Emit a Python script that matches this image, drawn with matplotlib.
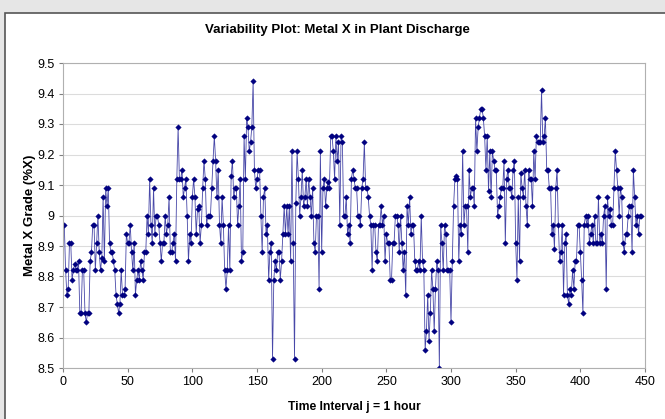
import matplotlib.pyplot as plt
from matplotlib.patches import Rectangle

# metal X grade, one reading per hour
grade_a = [8.97, 8.82, 8.74, 8.76, 8.91, 8.91, 8.79, 8.82, 8.84, 8.82,
           8.82, 8.85, 8.68, 8.68, 8.82, 8.82, 8.68, 8.65, 8.68, 8.68,
           8.85, 8.88, 8.97, 8.97, 8.82, 8.91, 9.00, 8.88, 8.82, 8.86,
           9.06, 8.85, 9.09, 9.03, 9.09, 8.91, 8.88, 8.88, 8.85, 8.82,
           8.74, 8.71, 8.68]
grade_b = [8.71, 8.82, 8.74, 8.74, 8.76, 8.94, 8.91, 8.91, 8.97, 8.88,
           8.82, 8.91, 8.74, 8.79, 8.82, 8.79, 8.85, 8.82, 8.79, 8.88,
           8.88, 9.00, 8.94, 9.12, 8.97, 8.91, 9.09, 8.94, 9.00, 9.00,
           8.97, 8.91, 8.85, 8.91, 8.91, 9.00, 8.94, 8.97, 9.06, 8.88,
           8.88, 8.91, 8.94, 8.85, 9.12, 9.29]
grade_c = [9.12, 9.12, 9.15, 9.06, 9.09, 9.12, 9.00, 8.85, 8.94, 8.91,
           9.06, 9.12, 9.06, 8.94, 9.02, 9.03, 8.91, 8.97, 9.09, 9.18,
           9.12, 8.97, 9.00, 9.00, 9.00, 9.09, 9.18, 9.26, 9.18, 9.06,
           9.15, 8.97, 8.91, 9.06, 8.97, 8.82, 8.76, 8.82, 8.97, 8.82,
           9.13, 9.18, 9.06, 9.09, 9.09, 8.97, 9.03, 9.12]
grade_d = [8.85, 8.88, 9.26, 9.12, 9.32, 9.29, 9.21, 9.24, 9.29, 9.44,
           9.15, 9.09, 9.12, 9.15, 9.15, 9.00, 8.88, 9.06, 9.09, 8.94,
           8.97, 8.79, 8.88, 8.91, 8.53, 8.79, 8.85, 8.82, 8.88, 8.88,
           8.79, 8.85, 8.94, 9.03, 8.94, 9.03, 8.94, 9.03, 8.85, 9.21,
           8.91, 8.53]
grade_e = [9.04, 9.21, 9.12, 9.00, 9.06, 9.15, 9.03, 9.06, 9.12, 9.03,
           9.12, 9.06, 9.00, 9.09, 8.91, 8.88, 9.00, 9.00, 8.76, 9.21,
           8.88, 9.09, 9.12, 9.03, 9.09, 9.11, 9.09, 9.26, 9.26, 9.21,
           9.12, 9.26, 9.18, 9.24, 8.97, 9.26, 9.24, 9.00, 9.00, 9.06,
           8.94, 8.97, 8.91, 9.12, 9.15, 9.12, 9.09, 9.09, 9.00]
grade_f = [9.00, 8.97, 9.09, 9.12, 9.24, 9.09, 9.09, 9.06, 9.00, 8.97,
           8.82, 8.97, 8.97, 8.88, 8.85, 8.97, 8.97, 9.03, 8.97, 9.00,
           8.85, 8.94, 8.91, 8.91, 8.79, 8.79, 8.91, 8.91, 9.00, 9.00,
           8.97, 8.88, 9.00, 8.91, 8.82, 8.88, 8.74, 9.03, 8.97, 9.06,
           8.94, 8.97, 8.97, 8.85, 8.82, 8.82]
grade_g = [8.85, 8.82, 9.00, 8.85, 8.82, 8.56, 8.62, 8.74, 8.59, 8.68,
           8.82, 8.76, 8.62, 8.76, 8.85, 8.82, 8.50, 8.97, 8.91, 8.82,
           8.97, 8.94, 8.82, 8.82, 8.82, 8.65, 8.85, 9.03, 9.12, 9.13,
           9.12, 8.85, 8.97, 8.94, 9.21, 8.97, 9.03, 9.03, 8.88, 9.15,
           9.06, 9.09, 9.09, 9.03, 9.32, 9.21, 9.29]
grade_h = [9.32, 9.35, 9.35, 9.32, 9.26, 9.15, 9.26, 9.08, 9.21, 9.06,
           9.21, 9.18, 9.15, 9.15, 9.00, 9.03, 9.06, 9.09, 9.09, 9.18,
           8.91, 9.12, 9.15, 9.09, 9.09, 9.06, 9.15, 9.18, 8.91, 8.79,
           9.06, 8.85, 9.14, 9.09, 9.06, 9.15, 9.03, 8.97, 9.15, 9.12,
           9.12, 9.03, 9.21, 9.12, 9.26, 9.24]
grade_i = [9.24, 9.24, 9.41, 9.24, 9.26, 9.32, 9.15, 9.15, 9.09, 9.09,
           8.94, 8.97, 8.89, 9.09, 9.15, 8.97, 8.85, 8.88, 8.97, 8.74,
           8.91, 8.94, 8.74, 8.71, 8.76, 8.74, 8.82, 8.76, 8.85, 8.85,
           8.97, 8.97, 8.88, 8.79, 8.68, 8.97, 9.00, 8.97, 9.00, 8.91,
           8.94, 8.97, 8.91, 9.00, 8.91, 8.91, 9.06]
grade_j = [8.91, 8.94, 8.91, 9.00, 9.03, 8.76, 9.06, 9.00, 9.02, 8.97,
           8.97, 9.09, 9.21, 9.15, 9.09, 9.00, 9.09, 9.06, 8.91, 8.88,
           8.94, 8.94, 9.00, 9.03, 9.03, 8.88, 9.15, 9.06, 8.97, 9.00,
           8.94, 9.00, 9.00]

grade = (grade_a + grade_b + grade_c + grade_d + grade_e + grade_f
         + grade_g + grade_h + grade_i + grade_j)
hours = list(range(1, len(grade) + 1))

x_ticks = [0, 50, 100, 150, 200, 250, 300, 350, 400, 450]
y_ticks = [8.5, 8.6, 8.7, 8.8, 8.9, 9.0, 9.1, 9.2, 9.3, 9.4, 9.5]
y_labels = ['8.5', '8.6', '8.7', '8.8', '8.9', '9', '9.1', '9.2', '9.3', '9.4', '9.5']

plt.rcParams['font.family'] = ['Liberation Sans', 'DejaVu Sans']

fig = plt.figure(figsize=(6.65, 4.19), dpi=100)
fig.patch.set_facecolor('#e6e6e6')
# white chart area with dark border, as in the spreadsheet export
fig.patches.append(Rectangle((5 / 665, -0.05), 1.1, 1 - 13 / 419 + 0.05,
                             transform=fig.transFigure, facecolor='white',
                             edgecolor='#555555', linewidth=1.2, zorder=-5))

ax = fig.add_axes([63 / 665, 1 - 368 / 419, 582 / 665, 305 / 419])
ax.set_zorder(1)
ax.plot(hours, grade, color='#4848a8', linewidth=0.6, marker='D',
        markersize=2.8, markerfacecolor='#000080', markeredgecolor='#000080',
        markeredgewidth=0.3)

ax.set_xlim(0, 450)
ax.set_ylim(8.5, 9.5)
ax.set_xticks(x_ticks)
ax.set_yticks(y_ticks)
ax.set_yticklabels(y_labels)
ax.tick_params(labelsize=9, length=3, color='#808080', pad=3)
ax.grid(axis='y', color='#dcdcdc', linewidth=0.8)
ax.set_axisbelow(True)
for s in ax.spines.values():
    s.set_color('#b0b0b0')

# title is centred on the whole chart box, not on the plot area
fig.text(337 / 665, 1 - 30 / 419, 'Variability Plot: Metal X in Plant Discharge',
         fontsize=9.5, fontweight='bold', ha='center', va='center')
ax.set_xlabel('Time Interval j = 1 hour', fontsize=8.7, fontweight='bold', labelpad=9)
ax.set_ylabel('Metal X Grade (%X)', fontsize=9.5, fontweight='bold')
ax.yaxis.set_label_coords(-27 / 582, 0.5)

fig.savefig('out.png', dpi=100, facecolor=fig.get_facecolor())
